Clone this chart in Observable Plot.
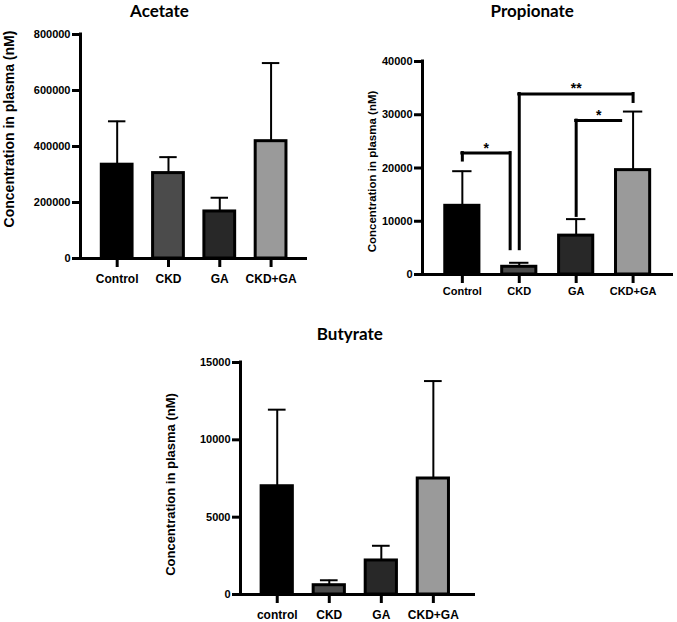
<!DOCTYPE html>
<html>
<head>
<meta charset="utf-8">
<script src="https://cdn.jsdelivr.net/npm/d3@7"></script>
<script src="https://cdn.jsdelivr.net/npm/@observablehq/plot@0.6"></script>
<style>
  html, body { margin: 0; padding: 0; background: #fff; }
  #root { position: relative; width: 677px; height: 622px; overflow: hidden; background: #fff; }
  #root > div { position: absolute; }
</style>
</head>
<body>
<div id="root"></div>
<script>
// ---- data ----
const categories = ["Control", "CKD", "GA", "CKD+GA"];
const butyrateCategories = ["control", "CKD", "GA", "CKD+GA"];
const barColors = ["#000000", "#4b4b4b", "#282828", "#9a9a9a"];

const acetateMean = [335000, 305000, 168000, 419000];
const acetateSD = [155000, 57000, 49000, 279000];
const acetateTicks = [0, 200000, 400000, 600000, 800000];

const propionateMean = [12900, 1450, 7300, 19600];
const propionateSD = [6500, 750, 3100, 11000];
const propionateTicks = [0, 10000, 20000, 30000, 40000];

const butyrateMean = [7000, 600, 2200, 7500];
const butyrateSD = [4950, 320, 950, 6300];
const butyrateTicks = [0, 5000, 10000, 15000];

// significance brackets (propionate): leg x positions in category index units, heights in nM
const sigFrom = [0, 1, 2];
const sigTo = [0.84, 3, 2.79];
const sigTop = [22800, 33900, 28900];
const sigLegFrom = [21400, 4750, 11000];
const sigLegTo = [4750, 32400, null];
const sigLabel = ["*", "**", "*"];

const yLabel = "Concentration in plasma (nM)";
const FONT = "'Liberation Sans', Arial, sans-serif";

function panel(o) {
  const idx = o.mean.map((_, i) => i);
  const marks = [
    Plot.rect(idx, {
      x1: i => i - 0.3, x2: i => i + 0.3, y1: 0, y2: i => o.mean[i],
      fill: i => barColors[i], stroke: "black", strokeWidth: 3
    }),
    Plot.ruleX(idx, {x: i => i, y1: i => o.mean[i], y2: i => o.mean[i] + o.sd[i], stroke: "black", strokeWidth: 2}),
    Plot.ruleY(idx, {x1: i => i - 0.17, x2: i => i + 0.17, y: i => o.mean[i] + o.sd[i], stroke: "black", strokeWidth: 2}),
    Plot.ruleY([0], {stroke: "black", strokeWidth: 3}),
    Plot.ruleX([o.xDomain[0]], {y1: 0, y2: o.yTicks[o.yTicks.length - 1], stroke: "black", strokeWidth: 3, strokeLinecap: "square"}),
    Plot.axisY({ticks: o.yTicks, tickSize: 8, tickPadding: 2, tickFormat: d3.format("d"), strokeWidth: 3,
      fontSize: o.tickFont, fontWeight: "bold", label: null}),
    Plot.axisX({ticks: [0, 1, 2, 3], tickSize: 9, tickPadding: o.catPad, tickFormat: i => o.cats[i], strokeWidth: 3,
      fontSize: o.catFont, fontWeight: "bold", label: null}),
    Plot.text([yLabel], {frameAnchor: "left", rotate: -90, textAnchor: "middle", dx: o.labelDx, dy: o.labelDy,
      fontSize: o.labelFont, fontWeight: "bold", fill: "black"}),
    Plot.text([o.title], {frameAnchor: "top-left", dx: o.titleDx, dy: o.titleDy, textAnchor: "middle",
      fontSize: 17, fontWeight: "bold", fontFamily: "Lato, 'Open Sans', sans-serif", fill: "black"})
  ];
  if (o.extra) marks.push(...o.extra);
  const svg = Plot.plot({
    width: o.width, height: o.height,
    marginLeft: o.mL, marginRight: o.mR, marginTop: o.mT, marginBottom: o.mB,
    x: {type: "linear", domain: o.xDomain},
    y: {domain: [0, o.yTicks[o.yTicks.length - 1]]},
    style: {fontFamily: FONT, fontWeight: "bold", color: "black", background: "transparent", overflow: "visible"},
    marks
  });
  const d = document.createElement("div");
  d.style.left = o.left + "px";
  d.style.top = o.top + "px";
  d.appendChild(svg);
  document.getElementById("root").appendChild(d);
}

// bracket marks for propionate
const bIdx = sigFrom.map((_, i) => i);
const bracketMarks = [
  Plot.ruleY(bIdx, {x1: i => sigFrom[i], x2: i => sigTo[i], y: i => sigTop[i], stroke: "black", strokeWidth: 3, strokeLinecap: "square"}),
  Plot.ruleX(bIdx, {x: i => sigFrom[i], y1: i => sigTop[i], y2: i => sigLegFrom[i], stroke: "black", strokeWidth: 3, strokeLinecap: "square"}),
  Plot.ruleX(bIdx.filter(i => sigLegTo[i] != null), {x: i => sigTo[i], y1: i => sigTop[i], y2: i => sigLegTo[i], stroke: "black", strokeWidth: 3, strokeLinecap: "square"}),
  Plot.text(bIdx, {x: i => (sigFrom[i] + sigTo[i]) / 2, y: i => sigTop[i], text: i => sigLabel[i], dy: -5,
    fontSize: 14, fontWeight: "bold", fill: "black"})
];

panel({
  left: 0, top: 0, width: 320, height: 290, mL: 80, mR: 13, mT: 34, mB: 32,
  xDomain: [-0.715, 3.71], cats: categories, mean: acetateMean, sd: acetateSD, yTicks: acetateTicks,
  title: "Acetate", titleDx: 79, titleDy: -30,
  labelDx: -70.5, labelDy: -17.5, labelFont: 14, tickFont: 11, catFont: 12, catPad: 7
});

panel({
  left: 340, top: 0, width: 337, height: 300, mL: 82, mR: 4, mT: 61, mB: 26,
  xDomain: [-0.70, 3.71], cats: categories, mean: propionateMean, sd: propionateSD, yTicks: propionateTicks,
  title: "Propionate", titleDx: 109.7, titleDy: -56.5,
  labelDx: -50.3, labelDy: 3.5, labelFont: 11.5, tickFont: 11, catFont: 11, catPad: 4,
  extra: bracketMarks
});

panel({
  left: 150, top: 300, width: 340, height: 322, mL: 90, mR: 15, mT: 62, mB: 28,
  xDomain: [-0.706, 3.81], cats: butyrateCategories, mean: butyrateMean, sd: butyrateSD, yTicks: butyrateTicks,
  title: "Butyrate", titleDx: 109.3, titleDy: -35,
  labelDx: -70, labelDy: 6, labelFont: 13, tickFont: 11, catFont: 12, catPad: 7
});
</script>
</body>
</html>
